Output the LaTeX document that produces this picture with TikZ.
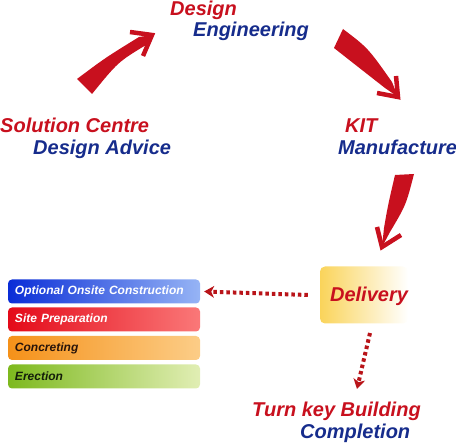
\documentclass[tikz,border=0pt]{standalone}
\usepackage{fontspec}
\setmainfont{Liberation Sans}
\usetikzlibrary{arrows.meta}
\definecolor{lred}{RGB}{200,16,30}
\definecolor{lblue}{RGB}{22,44,140}
\definecolor{adark}{RGB}{185,20,25}
\tikzset{
  lbl/.style={font=\fontsize{20}{22}\selectfont\bfseries\itshape, anchor=base west, inner sep=0pt},
  stage/.style={rounded corners=4pt, minimum width=192pt, minimum height=24pt, text width=178pt, align=left, inner xsep=7pt, font=\fontsize{12}{13}\selectfont\bfseries\itshape},
  bigarrow/.style={fill=lred, draw=none},
  bighead/.style={draw=lred, line width=4.5pt, line join=miter, line cap=butt},
  dotarrow/.style={draw=adark, line width=4pt, dash pattern=on 3.5pt off 3pt, -{Stealth[length=10pt,width=12pt,inset=3pt,line width=0pt]}}
}
\begin{document}
\begin{tikzpicture}[x=1pt,y=-1pt]
\useasboundingbox (0,0) rectangle (456,443);
% labels
\node[lbl, text=lred] (design) at (170,15.5) {Design};
\node[lbl, text=lblue] (eng) at (193,36.5) {Engineering};
\node[lbl, text=lred] (sol) at (0,133) {Solution Centre};
\node[lbl, text=lblue] (adv) at (33,155) {Design Advice};
\node[lbl, text=lred] (kit) at (345,133) {KIT};
\node[lbl, text=lblue] (man) at (338,155) {Manufacture};
\node[lbl, text=lred] (turn) at (252,417) {Turn key Building};
\node[lbl, text=lblue] (comp) at (300,439) {Completion};
% delivery box
\node[rounded corners=5pt, minimum width=88pt, minimum height=57pt, left color={rgb,255:red,250;green,212;blue,90}, right color=white, inner sep=0pt] (deliv) at (364,295) {};
\node[lbl, text=lred, anchor=base] (delivtxt) at (369,302) {Delivery};
% stages
\node[stage, left color={rgb,255:red,10;green,45;blue,215}, right color={rgb,255:red,150;green,180;blue,245}, text=white] (opt) at (104,291.5) {Optional Onsite Construction};
\node[stage, left color={rgb,255:red,228;green,10;blue,25}, right color={rgb,255:red,250;green,120;blue,120}, text=white] (site) at (104,319.5) {Site Preparation};
\node[stage, left color={rgb,255:red,245;green,145;blue,25}, right color={rgb,255:red,252;green,205;blue,135}, text={rgb,255:red,40;green,20;blue,10}] (conc) at (104,348) {Concreting};
\node[stage, left color={rgb,255:red,125;green,185;blue,30}, right color={rgb,255:red,225;green,238;blue,180}, text={rgb,255:red,20;green,30;blue,10}] (erec) at (104,376.5) {Erection};
% big arrows
\coordinate (a1) at (77,79); \coordinate (a2) at (92,94); \coordinate (at) at (152,35);
\fill[bigarrow] (a1) .. controls (105,58) .. (139,37) -- (at) -- (146,45) .. controls (118,62) .. (a2) -- cycle;
\draw[bighead] (130,32) -- (at) -- (143,56);
\coordinate (b1) at (334,48); \coordinate (b2) at (343,29); \coordinate (bt) at (398,97);
\fill[bigarrow] (b2) .. controls (368,48) .. (392,82) -- (bt) -- (385,88) .. controls (362,70) .. (b1) -- cycle;
\draw[bighead] (396,76) -- (bt) -- (377,93);
\coordinate (c1) at (395,175); \coordinate (c2) at (414,174); \coordinate (ct) at (382,247);
\fill[bigarrow] (c2) .. controls (406,205) .. (390,232) -- (ct) -- (384,228) .. controls (388,205) .. (c1) -- cycle;
\draw[bighead] (377,227) -- (ct) -- (401,235);
% dotted arrows
\draw[dotarrow] ([xshift=-12pt]deliv.west) -- ([xshift=4pt]opt.east);
\coordinate (d1) at (370,333);
\coordinate (d2) at (357,389);
\draw[dotarrow] (d1) -- (d2);
\end{tikzpicture}
\end{document}
